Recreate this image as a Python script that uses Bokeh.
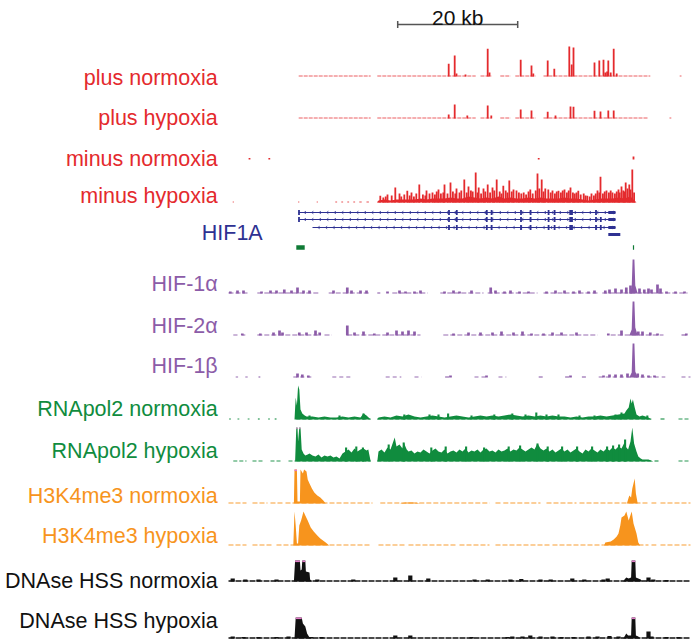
import numpy as np
from bokeh.plotting import figure
from bokeh.models import Range1d, ColumnDataSource
from bokeh.embed import file_html
from bokeh.resources import INLINE
from bokeh.core.properties import value

# ---------------- DATA (x = position in kb from left edge of the window, h = signal) ----------------
labels = ["plus normoxia", "plus hypoxia", "minus normoxia", "minus hypoxia", "HIF1A",
          "HIF-1\u03b1", "HIF-2\u03b1", "HIF-1\u03b2", "RNApol2 normoxia", "RNApol2 hypoxia",
          "H3K4me3 normoxia", "H3K4me3 hypoxia", "DNAse HSS normoxia", "DNAse HSS hypoxia"]

scale_start_kb = 28.2
scale_len_kb = 20
scale_label = "20 kb"

# plus normoxia
pn_cov = [(11.7, 23.7), (24.8, 41.2), (42.0, 43.8), (45.3, 47.0), (47.8, 51.2), (52.5, 70.3), (75.2, 75.5)]
pn_spk = [(36.7, 12.7), (37.7, 21), (38.0, 3), (39.5, 2), (43.2, 27.7), (43.5, 4), (48.7, 16.7), (50.5, 11),
          (50.8, 3), (53.2, 16), (54.3, 7.7), (56.8, 30), (57.2, 12), (57.5, 29), (61.0, 14), (61.8, 16),
          (62.5, 16.7), (62.8, 4), (63.1, 5), (63.3, 16), (63.7, 4), (64.2, 27.7), (64.7, 3)]
pn_prof = []
# plus hypoxia
ph_cov = [(11.7, 23.7), (24.8, 41.2), (42.0, 43.8), (45.3, 47.0), (47.8, 51.2), (52.5, 70.0), (73.5, 73.8)]
ph_spk = [(36.7, 4), (37.7, 14), (39.8, 3), (43.2, 13), (43.8, 3), (48.7, 9), (50.5, 8), (53.2, 6.7),
          (54.5, 3), (57.0, 12), (57.5, 11.7), (61.0, 7.7), (62.0, 7), (63.3, 8), (64.2, 8)]
ph_prof = []
# minus normoxia
mn_cov = []
mn_spk = [(3.5, 1.5), (6.8, 1.5), (51.7, 1.5), (67.5, 3)]
mn_prof = []
# minus hypoxia
mh_cov = [(0.7, 0.9), (11.6, 11.8), (14.7, 14.9), (17.8, 18.1), (18.8, 19.1), (19.8, 20.1), (20.8, 21.1),
          (21.8, 22.2), (23.0, 23.4), (24.8, 68.0)]
mh_prof = [(24.8, 0), (25, 2), (26, 3), (27, 2), (28, 3), (29, 3), (30, 3), (31, 3), (32, 4), (33, 3),
           (34, 4), (35, 4), (36, 4), (37, 5), (38, 4), (39, 4), (40, 6), (41, 5), (42, 4), (43, 5),
           (44, 4), (45, 6), (46, 4), (47, 5), (48, 4), (49, 4), (50, 5), (51, 4), (52, 5), (53, 4),
           (54, 4), (55, 4), (56, 5), (57, 4), (58, 4), (59, 3), (60, 2), (61, 3), (62, 4), (63, 4),
           (64, 4), (65, 5), (66, 4), (67, 6), (68, 0)]
mh_spk = [(25.3, 6.7), (26.5, 8), (27.8, 15), (28.5, 9), (29.8, 11.7), (30.5, 10), (31.8, 18), (33, 12),
          (34, 10), (35, 13), (36, 18), (37, 20), (38, 14), (39.3, 23), (40, 16), (41.2, 30), (41.7, 15),
          (42.5, 14), (43.2, 18), (44, 15), (44.7, 23), (45.8, 16.7), (46.8, 22), (47.5, 13), (48, 12),
          (49.2, 10), (50.3, 13), (51.5, 29), (52.2, 23), (52.8, 14), (53.3, 13), (54, 12), (55, 11.7),
          (56, 13), (57, 15), (58, 10), (58.3, 11.7), (59.8, 6.7), (60.5, 9), (61.5, 12), (62, 25.7),
          (63, 12), (64, 10), (65, 13), (65.5, 16), (66.2, 20), (66.8, 18), (67.3, 33),
          (25.8, 5), (26.2, 6), (27.2, 7), (28.8, 6), (29.3, 8), (30.2, 7), (30.9, 6), (31.3, 9), (32.4, 8),
          (32.8, 7), (33.5, 9), (34.4, 8), (34.7, 11), (35.4, 9), (35.8, 10), (36.5, 9), (37.4, 11),
          (37.8, 9), (38.5, 10), (38.8, 12), (39.7, 10), (40.4, 12), (40.7, 11), (41.5, 10), (42.1, 9),
          (42.8, 11), (43.6, 10), (44.3, 12), (45.2, 11), (45.5, 9), (46.2, 12), (46.5, 10), (47.2, 11),
          (48.4, 10), (48.8, 9), (49.6, 8), (50.0, 11), (50.7, 9), (51.2, 12), (51.8, 14), (52.5, 11),
          (53.7, 10), (54.4, 9), (54.7, 11), (55.4, 10), (55.7, 12), (56.4, 10), (56.7, 12), (57.4, 10),
          (57.7, 9), (58.7, 8), (59.2, 9), (59.5, 7), (60.2, 6), (60.9, 7), (61.2, 9), (61.8, 10),
          (62.4, 9), (62.7, 11), (63.4, 10), (63.7, 12), (64.4, 9), (64.7, 11), (65.2, 10), (65.8, 12),
          (66.0, 11), (66.5, 14), (67.0, 13), (67.6, 10)]

# HIF1A gene model
tx_start = [11.7, 11.7, 14.0]
tx_end = [64.5, 64.5, 64.5]
tx_exons = [
    [(11.6, 11.9), (36.6, 36.9), (37.9, 38.2), (42.9, 43.2), (43.7, 44.0), (48.6, 48.9), (50.2, 50.5),
     (53.2, 53.5), (54.2, 54.5), (56.8, 57.4), (61.1, 61.4), (63.3, 64.5)],
    [(11.6, 11.9), (36.6, 36.9), (37.9, 38.2), (42.9, 43.2), (43.7, 44.0), (48.6, 48.9), (50.2, 50.5),
     (53.2, 53.5), (54.2, 54.5), (56.8, 57.4), (61.1, 61.4), (61.9, 62.2), (63.3, 64.5)],
    [(36.6, 36.9), (37.9, 38.2), (42.9, 43.2), (43.7, 44.0), (48.6, 48.9), (50.2, 50.5),
     (53.2, 53.5), (54.2, 54.5), (56.8, 57.4), (61.1, 61.4), (61.9, 62.2), (63.3, 64.5)],
]
short_tx = (63.3, 65.3)
cpg = [(11.3, 12.7), (67.4, 67.6)]

# HIF-1alpha
h1a_cov = [(0, 3.3), (4.8, 15.3), (16.7, 23.7), (24.8, 25.3), (27.3, 33.2), (35.3, 42.5), (43.2, 51.5),
           (52.5, 61.5), (62.3, 76.5)]
h1a_prof = [(66.8, 0), (67.2, 6), (67.35, 34), (67.65, 34), (67.8, 8), (68.2, 0)]
h1a_spk = [(0.3, 2), (1.5, 3), (2.5, 3), (5.5, 2), (7, 3), (8, 3), (9.3, 4), (10.5, 3), (11.5, 6), (12.5, 3),
           (13.5, 3), (17.5, 3), (19.8, 6), (20.5, 3), (22, 3), (23, 3), (26.5, 2), (28.5, 3), (29.5, 2),
           (31, 2), (32, 3), (36, 2), (37.5, 3), (38.5, 2), (40.5, 3), (43.7, 6), (44.5, 3), (46, 2),
           (47, 3), (48.5, 2), (50, 2), (53, 2), (54.5, 3), (56, 3), (57.5, 2), (58.5, 3), (60, 2), (61, 3),
           (62.8, 3), (63.5, 4), (64.5, 5), (65.5, 4), (66.3, 6), (67.0, 8), (68.5, 5), (69.3, 4), (70, 5),
           (70.5, 4), (71.5, 9), (72, 5), (73, 2), (74.5, 2), (76, 2)]
# HIF-2alpha
h2a_cov = [(0.8, 1.5), (2.3, 2.8), (4.8, 15.3), (16.0, 17.2), (19.8, 32.0), (35.8, 61.5), (63.7, 72.5),
           (75.5, 76.5)]
h2a_prof = [(66.8, 0), (67.2, 6), (67.35, 34), (67.65, 34), (67.8, 8), (68.2, 0)]
h2a_spk = [(2.3, 2), (5.3, 2), (7.5, 3), (8.5, 5), (9, 3), (11.8, 3), (13, 3), (14.5, 5), (15.2, 3),
           (19.8, 10), (21, 3), (22.5, 4), (24.3, 2), (26.5, 3), (28, 5), (29, 4), (30, 5), (31, 4),
           (37.5, 2), (40, 3), (42, 3), (44, 3), (45.5, 4), (47.5, 3), (49, 4), (50.5, 2), (52.5, 2),
           (54, 3), (55.5, 3), (58, 3), (63.3, 2), (65.5, 5), (68.3, 4), (69, 4), (70.3, 3), (71.5, 2),
           (76.3, 2)]
# HIF-1beta
h1b_cov = [(1.2, 1.6), (2.8, 3.2), (5.0, 5.3), (10.8, 13.8), (17.3, 20.5), (26.2, 28.8), (31.0, 32.2),
           (36.1, 36.8), (41.0, 43.2), (45.0, 46.3), (51.7, 52.8), (56.1, 57.2), (58.9, 60.0),
           (61.7, 72.8), (75.5, 77.0)]
h1b_prof = [(66.8, 0), (67.2, 5), (67.35, 34), (67.65, 34), (67.8, 6), (68.2, 0)]
h1b_spk = [(11.5, 4), (12.3, 3), (13.3, 2), (37, 2), (43, 2), (57, 2), (62.5, 2), (63.5, 3), (64.5, 3),
           (65.5, 3), (66.5, 4), (68.2, 4), (69, 3), (70, 2), (71, 2)]
# RNApol2 normoxia
p2n_cov = [(0.1, 0.4), (1.5, 1.8), (3.2, 3.5), (4.9, 5.2), (6.6, 6.9), (7.7, 8.0), (11.3, 23.7),
           (24.8, 70.8), (72.0, 73.0), (75.0, 77.0)]
p2n_prof = [(11.0, 0), (11.2, 22), (11.4, 14), (11.6, 34), (11.8, 30), (12.0, 10), (12.3, 6), (12.7, 4),
            (13.0, 3), (14, 3), (15, 2), (16, 3), (17, 2), (18, 2), (19, 3), (20, 2), (21, 3), (22, 2),
            (22.5, 6), (23, 4), (23.7, 0), (24.8, 0), (25, 2), (26, 3), (27, 2), (28, 4), (29, 3), (30, 5),
            (31, 3), (32, 2), (33, 3), (34, 4), (35, 3), (36, 2), (37, 3), (38, 4), (39, 3), (40, 2),
            (41, 3), (42, 4), (43, 3), (44, 4), (45, 3), (46, 4), (47, 5), (48, 4), (49, 3), (50, 4),
            (51, 3), (52, 4), (53, 3), (54, 4), (55, 3), (56, 3), (57, 2), (58, 3), (59, 2), (60, 3),
            (61, 3), (62, 4), (63, 3), (64, 4), (65, 5), (66, 6), (66.3, 9), (66.7, 12), (67.0, 21),
            (67.2, 16), (67.4, 20), (67.7, 12), (68, 5), (68.5, 3), (69, 4), (70, 2), (70.5, 0)]
p2n_spk = [(13.5, 4), (18.5, 4), (22.5, 6), (29.3, 5), (33.5, 5), (35, 5), (36.6, 6), (40.5, 4), (44.3, 5),
           (47.3, 6), (49.5, 5), (51.3, 7), (53, 5), (55, 5), (58.5, 4), (61, 4), (64.5, 5), (65.5, 7),
           (69.8, 4)]
# RNApol2 hypoxia
p2h_cov = [(0.8, 3.0), (4.0, 6.0), (7.0, 9.0), (10.0, 11.2), (11.3, 23.7), (24.8, 70.8), (71.0, 72.0),
           (75.0, 77.0)]
p2h_prof = [(11.1, 0), (11.3, 34), (11.5, 34), (11.6, 20), (11.8, 34), (12.0, 34), (12.2, 12), (12.5, 8),
            (12.8, 6), (13.2, 7), (13.5, 8), (14, 6), (14.5, 5), (15, 7), (15.5, 4), (16, 6), (16.5, 5),
            (17, 6), (17.5, 4), (18, 5), (18.5, 3), (19, 8), (19.5, 10), (20, 12), (20.5, 9), (21, 13),
            (21.5, 10), (22, 12), (22.5, 13), (23, 11), (23.3, 12), (23.7, 0), (24.8, 0), (25, 10),
            (25.5, 12), (26, 9), (26.5, 14), (27, 12), (27.7, 24), (28, 15), (28.5, 17), (29, 13),
            (29.2, 19), (29.7, 12), (30, 10), (30.5, 11), (31, 8), (31.5, 10), (32, 9), (32.5, 12),
            (33, 10), (33.5, 8), (34, 11), (34.5, 13), (35, 10), (35.5, 9), (36, 12), (36.5, 8), (37, 10),
            (37.5, 11), (38, 9), (38.5, 12), (39, 10), (39.5, 13), (40, 9), (40.5, 11), (41, 10),
            (41.5, 12), (42, 9), (42.5, 12), (43, 13), (43.5, 10), (44, 11), (44.5, 9), (45, 12),
            (45.5, 10), (46, 11), (46.5, 13), (47, 10), (47.5, 12), (48, 11), (48.5, 14), (49, 12),
            (49.5, 10), (50, 12), (50.5, 14), (51, 12), (51.5, 18), (52, 13), (52.5, 11), (53, 13),
            (53.5, 10), (54, 12), (54.5, 9), (55, 11), (55.5, 13), (56, 10), (56.5, 12), (57, 9),
            (57.5, 11), (58, 13), (58.5, 10), (59, 8), (59.5, 12), (60, 10), (60.5, 13), (61, 11),
            (61.5, 9), (62, 12), (62.5, 10), (63, 13), (63.5, 11), (64, 14), (64.5, 12), (65, 15),
            (65.5, 13), (66, 19), (66.3, 14), (66.6, 12), (67, 20), (67.3, 34), (67.6, 18), (68, 10),
            (68.3, 5), (68.7, 3), (69, 2), (70, 2), (70.8, 0)]
p2h_spk = [(19.6, 14), (21.3, 15), (22.4, 14), (26.7, 17), (29.2, 19), (33.8, 14), (36.2, 15), (39.6, 15),
           (42.6, 14), (46.7, 15), (48.6, 16), (51.5, 18), (53.2, 15), (55.6, 15), (58.1, 15), (60.6, 15),
           (63.1, 15), (64.1, 16), (65.1, 17), (66.1, 22)]
# H3K4me3 normoxia
k4n_cov = [(0, 3), (4, 6.5), (7, 9), (9.5, 11), (11, 24), (25.3, 31.5), (31.8, 43.5), (44.5, 45.5),
           (45.8, 52), (53, 58), (58.5, 70), (70.5, 71.3), (72, 77)]
k4n_prof = [(10.9, 0), (11.0, 34), (11.4, 34), (11.5, 2), (11.9, 2), (12.0, 34), (12.4, 30), (12.6, 34),
            (13.0, 32), (13.2, 24), (13.5, 20), (13.9, 15), (14.3, 11), (14.8, 8), (15.3, 6), (15.8, 3),
            (16.2, 0), (28.5, 0), (29.5, 1), (31.0, 1), (32.0, 0), (66.4, 0), (66.8, 8), (67.1, 6),
            (67.3, 15), (67.7, 25), (67.9, 10), (68.2, 0)]
k4n_spk = []
# H3K4me3 hypoxia
k4h_cov = [(0, 3), (4, 7.5), (8, 11), (11, 23.5), (25, 29.5), (30, 38), (38.5, 43.5), (44.5, 53.5),
           (54, 62.5), (62.5, 70), (70.5, 71.3), (72, 77)]
k4h_prof = [(10.8, 0), (11.0, 34), (11.2, 20), (11.4, 2), (11.6, 2), (11.8, 20), (12.1, 25), (12.5, 34),
            (12.8, 30), (13.2, 25), (13.7, 18), (14.2, 14), (14.8, 10), (15.3, 7), (16.2, 3), (16.8, 0),
            (62.6, 0), (62.8, 3), (63.7, 4), (64.2, 6), (64.7, 9), (65.0, 12), (65.3, 20), (65.5, 28),
            (66.0, 30), (66.3, 34), (66.7, 25), (67.2, 34), (67.5, 22), (68.0, 12), (68.3, 3), (68.6, 0)]
k4h_spk = []
# DNAse HSS normoxia
dn_cov = [(0, 77)]
dn_prof = [(10.9, 0), (11.1, 21), (11.9, 21), (12.0, 11), (12.2, 12), (12.3, 21), (12.8, 21), (12.9, 10),
           (13.5, 9), (13.6, 2), (14.0, 0), (65.8, 0), (66.0, 2), (66.3, 4), (66.7, 3), (67.1, 4),
           (67.2, 21), (67.8, 21), (67.9, 4), (68.3, 3), (68.7, 2), (69.0, 0)]
dn_spk = [(0.7, 3), (2.8, 2), (5.0, 2), (8.0, 2), (14.8, 2), (20.8, 2), (27.8, 4), (30.3, 6), (33.3, 3),
          (41.0, 2), (43.2, 2), (47.0, 2), (48.8, 2.5), (52.0, 2), (53.7, 2), (57.3, 3), (59.3, 2),
          (62.5, 2), (63.2, 3), (70.0, 4), (70.8, 2), (73.0, 1.5)]
# DNAse HSS hypoxia
dh_cov = [(0, 77)]
dh_prof = [(11.0, 0), (11.2, 21), (12.2, 21), (12.4, 15), (12.8, 12), (13.1, 5), (13.4, 2), (13.7, 0),
           (65.8, 0), (66.1, 3), (66.3, 5), (66.6, 3), (67.1, 3), (67.2, 21), (67.8, 21), (67.9, 3),
           (68.3, 2), (68.6, 0)]
dh_spk = [(0.7, 2), (2.5, 1.5), (5.0, 1.5), (8.0, 1.5), (10.0, 2), (13.8, 1.5), (15.5, 1.5), (27.8, 3),
          (30.3, 3), (40.5, 1.5), (46.5, 1.5), (47.3, 2), (49.0, 2), (50.3, 3), (52.0, 2), (54.0, 2),
          (55.5, 1.5), (57.5, 1.5), (60.0, 2), (61.5, 2), (63.5, 2.5), (65.0, 2), (70.0, 7), (70.5, 2),
          (73.0, 1.5), (75.0, 1.5)]

# ---------------- LAYOUT / STYLE ----------------
RED = "#e42a2d"
NAVY = "#2e3192"
GREEN = "#108c3e"
PURPLE = "#8c5ca8"
ORANGE = "#f7941d"
BLACK = "#111111"
CLIP = "#e27cc8"
FONT = value("Liberation Sans")

# (cov, profile, spikes, baseline y, color, clip max, spike width, baseline width, baseline dash, baseline alpha)
tracks = [
    (pn_cov, pn_prof, pn_spk, 76, RED, None, 0.3, 1.0, "4 1", 0.75),
    (ph_cov, ph_prof, ph_spk, 118, RED, None, 0.3, 1.0, "4 1", 0.75),
    (mn_cov, mn_prof, mn_spk, 159, RED, None, 0.3, 1.0, "solid", 0.75),
    (mh_cov, mh_prof, mh_spk, 202, RED, None, 0.3, 1.0, "3 2", 0.8),
    (h1a_cov, h1a_prof, h1a_spk, 293, PURPLE, None, 0.45, 1.2, "5 2", 0.9),
    (h2a_cov, h2a_prof, h2a_spk, 335, PURPLE, None, 0.45, 1.2, "5 2", 0.9),
    (h1b_cov, h1b_prof, h1b_spk, 377, PURPLE, None, 0.45, 1.2, "4 3", 0.9),
    (p2n_cov, p2n_prof, p2n_spk, 419, GREEN, None, 0.35, 1.2, "4 2", 0.9),
    (p2h_cov, p2h_prof, p2h_spk, 461, GREEN, 34, 0.35, 1.2, "4 2", 0.9),
    (k4n_cov, k4n_prof, k4n_spk, 503, ORANGE, 34, 0.35, 1.0, "5 2", 0.9),
    (k4h_cov, k4h_prof, k4h_spk, 545, ORANGE, None, 0.35, 1.0, "5 2", 0.9),
    (dn_cov, dn_prof, dn_spk, 581, BLACK, 21, 0.7, 1.6, "6 1", 1.0),
    (dh_cov, dh_prof, dh_spk, 638, BLACK, 21, 0.7, 1.6, "6 1", 1.0),
]

label_x = [-1.8] * 4 + [5.7] + [-1.8] * 9
label_y = [77, 117, 158, 195, 232, 283, 325, 365, 408, 450, 495, 535, 580, 620]
label_c = [RED] * 4 + [NAVY] + [PURPLE] * 3 + [GREEN] * 2 + [ORANGE] * 2 + [BLACK] * 2
tx_y = [212, 219, 227]
short_tx_y = 234
cpg_y = 247

p = figure(width=697, height=641, x_range=Range1d(-38.0, 78.1667), y_range=Range1d(641, 0),
           output_backend="svg", toolbar_location=None, min_border=0,
           x_axis_location=None, y_axis_location=None, outline_line_color=None,
           background_fill_color="white", border_fill_color="white")
p.xgrid.visible = False
p.ygrid.visible = False

for cov, prof, spk, base, color, vmax, sw, bw, bdash, balpha in tracks:
    if cov:
        p.segment(x0=[c[0] for c in cov], x1=[c[1] for c in cov],
                  y0=[base - 0.5] * len(cov), y1=[base - 0.5] * len(cov),
                  line_color=color, line_width=bw, line_dash=bdash, line_alpha=balpha)
    if prof:
        xs = [a for a, _ in prof]
        hs = [b for _, b in prof]
        p.varea(x=xs, y1=[base] * len(xs), y2=[base - h for h in hs], fill_color=color)
        if vmax is not None:
            for i in range(len(prof) - 1):
                if hs[i] >= vmax and hs[i + 1] >= vmax:
                    p.segment(x0=[xs[i]], y0=[base - vmax + 0.8], x1=[xs[i + 1]], y1=[base - vmax + 0.8],
                              line_color=CLIP, line_width=1.6)
    if spk:
        xs = [a for a, _ in spk]
        hs = [b for _, b in spk]
        p.vbar(x=xs, width=sw, top=[base - h for h in hs], bottom=[base] * len(xs),
               fill_color=color, line_color=None)

# gene model
for s, e, y, exons in zip(tx_start, tx_end, tx_y, tx_exons):
    p.segment(x0=[s], y0=[y], x1=[e], y1=[y], line_color=NAVY, line_width=1)
    cx = np.arange(s + 0.9, e - 0.3, 1.25)
    p.segment(x0=cx, y0=[y] * len(cx), x1=cx + 0.3, y1=[y - 1.3] * len(cx), line_color=NAVY, line_width=0.8)
    p.segment(x0=cx, y0=[y] * len(cx), x1=cx + 0.3, y1=[y + 1.3] * len(cx), line_color=NAVY, line_width=0.8)
    ex_h = [3.2 if (b - a) > 1 else 5.0 for a, b in exons]
    p.quad(left=[a for a, _ in exons], right=[b for _, b in exons],
           top=[y - h / 2 for h in ex_h], bottom=[y + h / 2 for h in ex_h], fill_color=NAVY, line_color=None)
p.quad(left=[short_tx[0]], right=[short_tx[1]], top=[short_tx_y - 1.5], bottom=[short_tx_y + 1.5],
       fill_color=NAVY, line_color=None)
p.quad(left=[a for a, _ in cpg], right=[b for _, b in cpg], top=[cpg_y - 2.3] * len(cpg),
       bottom=[cpg_y + 2.3] * len(cpg), fill_color="#0f7a35", line_color=None)

# scale bar
sb0, sb1 = scale_start_kb, scale_start_kb + scale_len_kb
p.segment(x0=[sb0], y0=[24], x1=[sb1], y1=[24], line_color="#555555", line_width=1.5)
p.segment(x0=[sb0, sb1], y0=[20.5, 20.5], x1=[sb0, sb1], y1=[27.5, 27.5], line_color="#555555", line_width=1.5)
p.text(x=[(sb0 + sb1) / 2], y=[17], text=[scale_label], text_align="center", text_baseline="alphabetic",
       text_font=FONT, text_font_size="21px", text_color="#111111")

# labels
src = ColumnDataSource(dict(x=label_x, y=label_y, t=labels, c=label_c))
p.text(x="x", y="y", text="t", text_color="c", source=src, text_align="right",
       text_baseline="alphabetic", text_font=FONT, text_font_size="21.5px")

open("out.html", "w").write(file_html(p, INLINE))
